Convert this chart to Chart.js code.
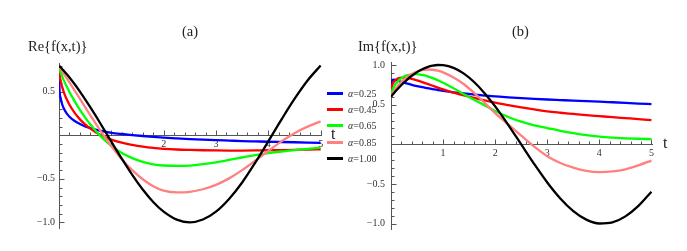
<!DOCTYPE html>
<html>
<head>
<meta charset="utf-8">
<script src="https://cdn.jsdelivr.net/npm/chart.js@4.4.1/dist/chart.umd.min.js"></script>
<style>
  html, body { margin: 0; padding: 0; background: #fff; }
  #wrap { position: relative; width: 687px; height: 251px; background: #fff; font-family: "Liberation Serif", "DejaVu Serif", serif; color: #222; }
  .box { position: absolute; top: 0; }
  .txt { position: absolute; white-space: nowrap; line-height: 1; }
  .big { font-size: 14.5px; }
  .axlab { font-size: 16px; }
  #legend { position: absolute; left: 327px; top: 85px; }
  #legend .row { display: flex; align-items: center; height: 16.4px; }
  #legend .sw { display: inline-block; width: 16px; height: 3px; margin-right: 5px; }
  #legend .lb { font-size: 10px; color: #333; }
</style>
</head>
<body>
<div id="wrap">
  <div class="box" style="left:0;width:345px;height:251px"><canvas id="reChart" width="345" height="251"></canvas></div>
  <div class="box" style="left:345px;width:342px;height:251px"><canvas id="imChart" width="342" height="251"></canvas></div>
  <div class="txt big" style="left:182px;top:24px">(a)</div>
  <div class="txt big" style="left:512px;top:24px">(b)</div>
  <div class="txt big" style="left:28px;top:39px">Re{f(x,t)}</div>
  <div class="txt big" style="left:358px;top:39px">Im{f(x,t)}</div>
  <div class="txt axlab" style="left:331px;top:126px">t</div>
  <div class="txt axlab" style="left:663px;top:135px">t</div>
  <div id="legend"></div>
</div>
<script>
// valores
const times = [0, 0.01, 0.03, 0.06, 0.1, 0.15, 0.2, 0.3, 0.4, 0.5, 0.6, 0.7, 0.8, 0.9, 1.0,
  1.2, 1.4, 1.6, 1.8, 2.0, 2.25, 2.5, 2.75, 3.0, 3.25, 3.5, 3.75, 4.0, 4.25, 4.5, 4.75, 5.0];

const alphaLabels = ['0.25', '0.45', '0.65', '0.85', '1.00'];
const lineColors = ['#0000ff', '#ff0000', '#00ff00', '#ff8080', '#000000'];

// Re{f(x,t)}
const re025 = [0.80, 0.527, 0.431, 0.357, 0.299, 0.249, 0.214, 0.164, 0.130, 0.103, 0.083, 0.066, 0.051, 0.039, 0.029,
  0.015, 0.003, -0.008, -0.017, -0.026, -0.035, -0.043, -0.050, -0.056, -0.061, -0.066, -0.070, -0.074, -0.077, -0.080, -0.083, -0.086];
const re045 = [0.80, 0.703, 0.630, 0.557, 0.483, 0.411, 0.351, 0.257, 0.183, 0.125, 0.076, 0.036, 0.003, -0.026, -0.049,
  -0.085, -0.110, -0.130, -0.145, -0.155, -0.163, -0.168, -0.172, -0.174, -0.175, -0.175, -0.174, -0.172, -0.170, -0.167, -0.163, -0.160];
const re065 = [0.80, 0.765, 0.725, 0.677, 0.620, 0.557, 0.498, 0.390, 0.292, 0.204, 0.124, 0.052, -0.012, -0.070, -0.120,
  -0.204, -0.262, -0.306, -0.333, -0.347, -0.352, -0.348, -0.332, -0.310, -0.283, -0.255, -0.228, -0.205, -0.186, -0.170, -0.155, -0.142];
const re085 = [0.80, 0.787, 0.766, 0.738, 0.701, 0.654, 0.608, 0.514, 0.419, 0.324, 0.230, 0.137, 0.046, -0.041, -0.124,
  -0.276, -0.400, -0.505, -0.585, -0.635, -0.656, -0.650, -0.620, -0.570, -0.495, -0.400, -0.292, -0.180, -0.070, 0.025, 0.100, 0.160];
const re100 = [0.800, 0.794, 0.782, 0.763, 0.736, 0.701, 0.665, 0.587, 0.503, 0.414, 0.321, 0.225, 0.127, 0.027, -0.073,
  -0.269, -0.455, -0.623, -0.766, -0.878, -0.969, -1.000, -0.968, -0.877, -0.731, -0.542, -0.314, -0.069, 0.180, 0.418, 0.630, 0.802];

// Im{f(x,t)}
const im025 = [0.60, 0.792, 0.811, 0.814, 0.808, 0.798, 0.787, 0.768, 0.750, 0.734, 0.720, 0.708, 0.696, 0.684, 0.674,
  0.656, 0.641, 0.628, 0.615, 0.603, 0.592, 0.582, 0.573, 0.565, 0.558, 0.551, 0.545, 0.538, 0.530, 0.522, 0.514, 0.507];
const im045 = [0.60, 0.703, 0.755, 0.793, 0.819, 0.835, 0.841, 0.838, 0.824, 0.805, 0.784, 0.761, 0.738, 0.715, 0.693,
  0.652, 0.617, 0.585, 0.553, 0.525, 0.495, 0.467, 0.440, 0.415, 0.398, 0.383, 0.368, 0.355, 0.342, 0.330, 0.318, 0.305];
const im065 = [0.60, 0.643, 0.685, 0.728, 0.769, 0.806, 0.834, 0.868, 0.882, 0.884, 0.874, 0.857, 0.834, 0.807, 0.775,
  0.706, 0.632, 0.560, 0.490, 0.420, 0.345, 0.285, 0.240, 0.205, 0.170, 0.140, 0.115, 0.097, 0.085, 0.076, 0.070, 0.066];
const im085 = [0.60, 0.617, 0.642, 0.674, 0.711, 0.752, 0.787, 0.844, 0.887, 0.918, 0.936, 0.943, 0.940, 0.928, 0.907,
  0.842, 0.757, 0.645, 0.520, 0.393, 0.250, 0.110, -0.030, -0.150, -0.235, -0.295, -0.335, -0.350, -0.342, -0.315, -0.265, -0.205];
const im100 = [0.600, 0.608, 0.624, 0.647, 0.677, 0.713, 0.747, 0.810, 0.864, 0.910, 0.947, 0.974, 0.992, 1.000, 0.997,
  0.963, 0.891, 0.782, 0.642, 0.478, 0.246, -0.002, -0.249, -0.481, -0.682, -0.841, -0.949, -0.998, -0.984, -0.908, -0.776, -0.597];

// ejes
const xTicks = [1, 2, 3, 4, 5];
const xLabels = ['1', '2', '3', '4', '5'];
const reYTicks = [-1.0, -0.5, 0.5];
const reYLabels = ['\u22121.0', '\u22120.5', '0.5'];
const imYTicks = [-1.0, -0.5, 0.5, 1.0];
const imYLabels = ['\u22121.0', '\u22120.5', '0.5', '1.0'];

const axisColor = '#555';
const tickFont = { family: '"Liberation Serif", serif', size: 10 };

// marcas menores y mayores de los ejes (estilo Mathematica)
const axisTicks = {
  id: 'axisTicks',
  beforeDatasetsDraw(chart, args, opts) {
    const { ctx, scales: { x, y } } = chart;
    const ox = Math.round(x.getPixelForValue(0)) + 0.5;
    const oy = Math.round(y.getPixelForValue(0)) + 0.5;
    ctx.save();
    ctx.strokeStyle = axisColor;
    ctx.lineWidth = 1;
    ctx.beginPath();
    const nx = Math.floor(x.max / opts.xStep + 1e-6);
    for (let i = 1; i <= nx; i++) {
      const px = Math.round(x.getPixelForValue(i * opts.xStep)) + 0.5;
      const len = i % 5 === 0 ? 5 : 3;
      ctx.moveTo(px, oy);
      ctx.lineTo(px, oy - len);
    }
    const y0 = Math.ceil(y.min / opts.yStep - 1e-6);
    const y1 = Math.floor(y.max / opts.yStep + 1e-6);
    for (let j = y0; j <= y1; j++) {
      if (j === 0) continue;
      const py = Math.round(y.getPixelForValue(j * opts.yStep)) + 0.5;
      const len = j % 5 === 0 ? 5 : 3;
      ctx.moveTo(ox, py);
      ctx.lineTo(ox + len, py);
    }
    ctx.stroke();
    ctx.restore();
  }
};

function makeDatasets(seriesList) {
  return seriesList.map((vals, i) => ({
    label: '\u03b1=' + alphaLabels[i],
    data: times.map((t, j) => ({ x: t, y: vals[j] })),
    borderColor: lineColors[i],
    backgroundColor: lineColors[i],
    borderWidth: 2.3,
    pointRadius: 0,
    fill: false,
    cubicInterpolationMode: 'monotone',
    order: seriesList.length - i
  }));
}

function makeOptions(yMin, yMax, yTicks, yLabels, yPad, padding) {
  return {
    responsive: false,
    animation: false,
    events: [],
    layout: { padding },
    plugins: {
      legend: { display: false },
      tooltip: { enabled: false },
      axisTicks: { xStep: 0.2, yStep: 0.1 }
    },
    scales: {
      x: {
        type: 'linear',
        min: 0,
        max: 5.02,
        position: { y: 0 },
        grid: { display: false, drawTicks: false },
        border: { display: true, color: axisColor, width: 1 },
        ticks: { autoSkip: false, maxRotation: 0, padding: 3, font: tickFont, color: '#333',
          callback: (v, i) => xLabels[i] },
        afterBuildTicks: (s) => { s.ticks = xTicks.map(v => ({ value: v })); },
        afterFit: (s) => { s.paddingLeft = 0; s.paddingRight = 0; }
      },
      y: {
        type: 'linear',
        min: yMin,
        max: yMax,
        position: 'left',
        grid: { display: false, drawTicks: false },
        border: { display: true, color: axisColor, width: 1 },
        ticks: { autoSkip: false, padding: yPad, font: tickFont, color: '#333',
          callback: (v, i) => yLabels[i] },
        afterBuildTicks: (s) => { s.ticks = yTicks.map(v => ({ value: v })); },
        afterFit: (s) => { s.width = 40; s.paddingTop = 0; s.paddingBottom = 0; }
      }
    }
  };
}

new Chart(document.getElementById('reChart'), {
  type: 'line',
  data: { datasets: makeDatasets([re025, re045, re065, re085, re100]) },
  options: makeOptions(-1.07, 0.83, reYTicks, reYLabels, 4, { left: 19, right: 23.3, top: 63.1, bottom: 22.6 }),
  plugins: [axisTicks]
});

new Chart(document.getElementById('imChart'), {
  type: 'line',
  data: { datasets: makeDatasets([im025, im045, im065, im085, im100]) },
  options: makeOptions(-1.07, 1.03, imYTicks, imYLabels, 6, { left: 6, right: 34.5, top: 62.6, bottom: 21.8 }),
  plugins: [axisTicks]
});

// leyenda
const legendBox = document.getElementById('legend');
alphaLabels.forEach((a, i) => {
  const row = document.createElement('div');
  row.className = 'row';
  row.innerHTML = '<span class="sw" style="background:' + lineColors[i] + '"></span>' +
    '<span class="lb"><i>\u03b1</i>=' + a + '</span>';
  legendBox.appendChild(row);
});
</script>
</body>
</html>
